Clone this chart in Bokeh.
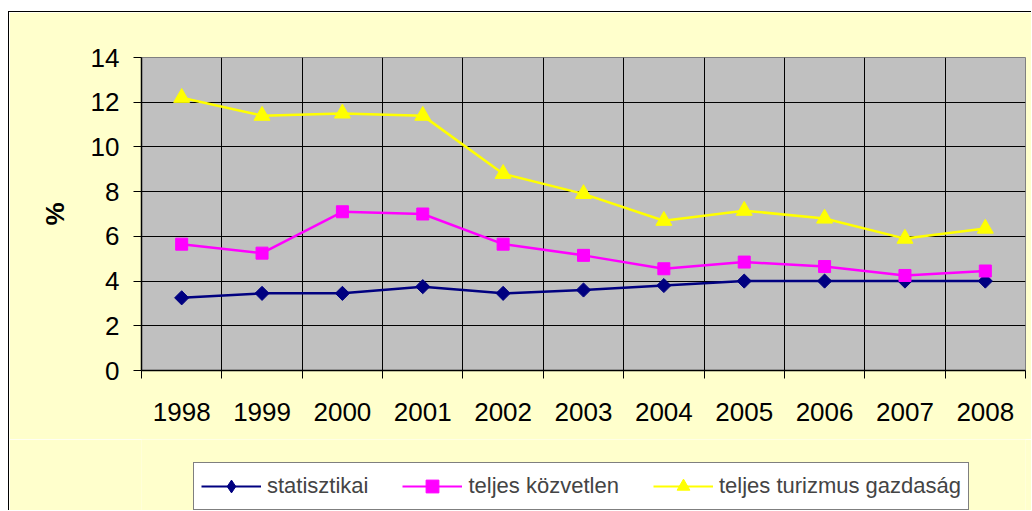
import math
from bokeh.plotting import figure
from bokeh.layouts import column
from bokeh.models import (Range1d, FixedTicker, CustomJSTickFormatter, Legend,
                          LegendItem, ColumnDataSource)
from bokeh.embed import file_html
from bokeh.resources import INLINE

years = ["1998", "1999", "2000", "2001", "2002", "2003", "2004", "2005", "2006", "2007", "2008"]
statisztikai = [3.25, 3.45, 3.45, 3.75, 3.45, 3.6, 3.8, 4.0, 4.0, 4.0, 4.0]
teljes_kozvetlen = [5.65, 5.25, 7.1, 7.0, 5.65, 5.15, 4.55, 4.85, 4.65, 4.25, 4.45]
teljes_turizmus = [12.2, 11.4, 11.5, 11.4, 8.8, 7.9, 6.7, 7.15, 6.8, 5.9, 6.35]
y_ticks = [0, 2, 4, 6, 8, 10, 12, 14]
series_names = ["statisztikai", "teljes közvetlen", "teljes turizmus gazdaság"]
y_label = "%"

FONT = "Liberation Sans"
BG = "#FFFFCC"
n = len(years)
xs = [i + 0.5 for i in range(n)]
bounds = [float(i) for i in range(n + 1)]

p = figure(width=1023, height=428,
           x_range=Range1d(0, n), y_range=Range1d(y_ticks[0], y_ticks[-1]),
           output_backend="svg", toolbar_location=None,
           min_border_left=132, min_border_right=7, min_border_top=45, min_border_bottom=70,
           background_fill_color="#C0C0C0", border_fill_color=BG,
           outline_line_color="#808080")
p.styles = {"border-left": "1px solid black", "border-top": "1px solid black"}

# X axis
p.xaxis.ticker = FixedTicker(ticks=xs, minor_ticks=bounds)
p.xaxis.formatter = CustomJSTickFormatter(args=dict(labels=years),
                                          code="return labels[Math.floor(tick)];")
p.xaxis.major_tick_in = 0
p.xaxis.major_tick_out = 0
p.xaxis.minor_tick_in = 0
p.xaxis.minor_tick_out = 8
p.xaxis.minor_tick_line_color = "black"
p.xaxis.major_label_standoff = 24
p.xgrid.ticker = FixedTicker(ticks=bounds[1:-1])

# Y axis
p.yaxis.ticker = FixedTicker(ticks=y_ticks)
p.yaxis.major_tick_in = 0
p.yaxis.major_tick_out = 8
p.yaxis.minor_tick_out = 0
p.yaxis.minor_tick_in = 0
p.yaxis.major_label_standoff = 14
p.yaxis.axis_label = y_label
p.yaxis.axis_label_text_font = FONT
p.yaxis.axis_label_text_font_size = "26px"
p.yaxis.axis_label_text_font_style = "bold"
p.yaxis.axis_label_text_color = "black"
p.yaxis.axis_label_standoff = 18

for ax in (p.xaxis, p.yaxis):
    ax.axis_line_color = "black"
    ax.axis_line_width = 1.5
    ax.major_tick_line_color = "black"
    ax.major_label_text_font = FONT
    ax.major_label_text_font_size = "26px"
    ax.major_label_text_color = "black"

for g in (p.xgrid, p.ygrid):
    g.grid_line_color = "black"
    g.grid_line_width = 1

colors = ["#000080", "#FF00FF", "#FFFF00"]
markers = ["square", "square", "triangle"]
legend_markers = ["diamond", "square", "triangle"]
angles = [math.pi / 4, 0, 0]
sizes = [10, 12, 16]
series = [statisztikai, teljes_kozvetlen, teljes_turizmus]

sources = []
for vals, c, m, a, s in zip(series, colors, markers, angles, sizes):
    src = ColumnDataSource(dict(x=xs, y=vals))
    sources.append(src)
    p.line("x", "y", source=src, line_color=c, line_width=2.5)
    p.scatter("x", "y", source=src, marker=m, angle=a, size=s,
              fill_color=c, line_color=c)

# Legend strip (separate canvas below the chart, same background).
# Its ranges lie outside the data, so only the legend itself is visible.
p2 = figure(width=1023, height=71, x_range=Range1d(-2, -1), y_range=Range1d(-2, -1),
            output_backend="svg", toolbar_location=None,
            x_axis_type=None, y_axis_type=None,
            min_border_left=0, min_border_right=0, min_border_top=0, min_border_bottom=0,
            background_fill_color=BG, border_fill_color=BG, outline_line_color=None)
p2.xgrid.visible = False
p2.ygrid.visible = False
p2.styles = {"border-left": "1px solid black"}

items = []
for name, src, c, m, s in zip(series_names, sources, colors, legend_markers, sizes):
    ln = p2.line("x", "y", source=src, line_color=c, line_width=2.2)
    sc = p2.scatter("x", "y", source=src, marker=m, size=s,
                    fill_color=c, line_color=c)
    items.append(LegendItem(label=name, renderers=[ln, sc]))

legend = Legend(items=items, location=(52, 0), orientation="horizontal",
                label_text_font=FONT, label_text_font_size="22px",
                glyph_width=60, glyph_height=32, label_standoff=6, spacing=34,
                padding=7, margin=0, border_line_color="black", border_line_width=1,
                background_fill_color="white", background_fill_alpha=1.0)
p2.add_layout(legend)

layout = column(p, p2, spacing=0, margin=(11, 0, 0, 8))

open("out.html", "w").write(file_html(layout, INLINE))
